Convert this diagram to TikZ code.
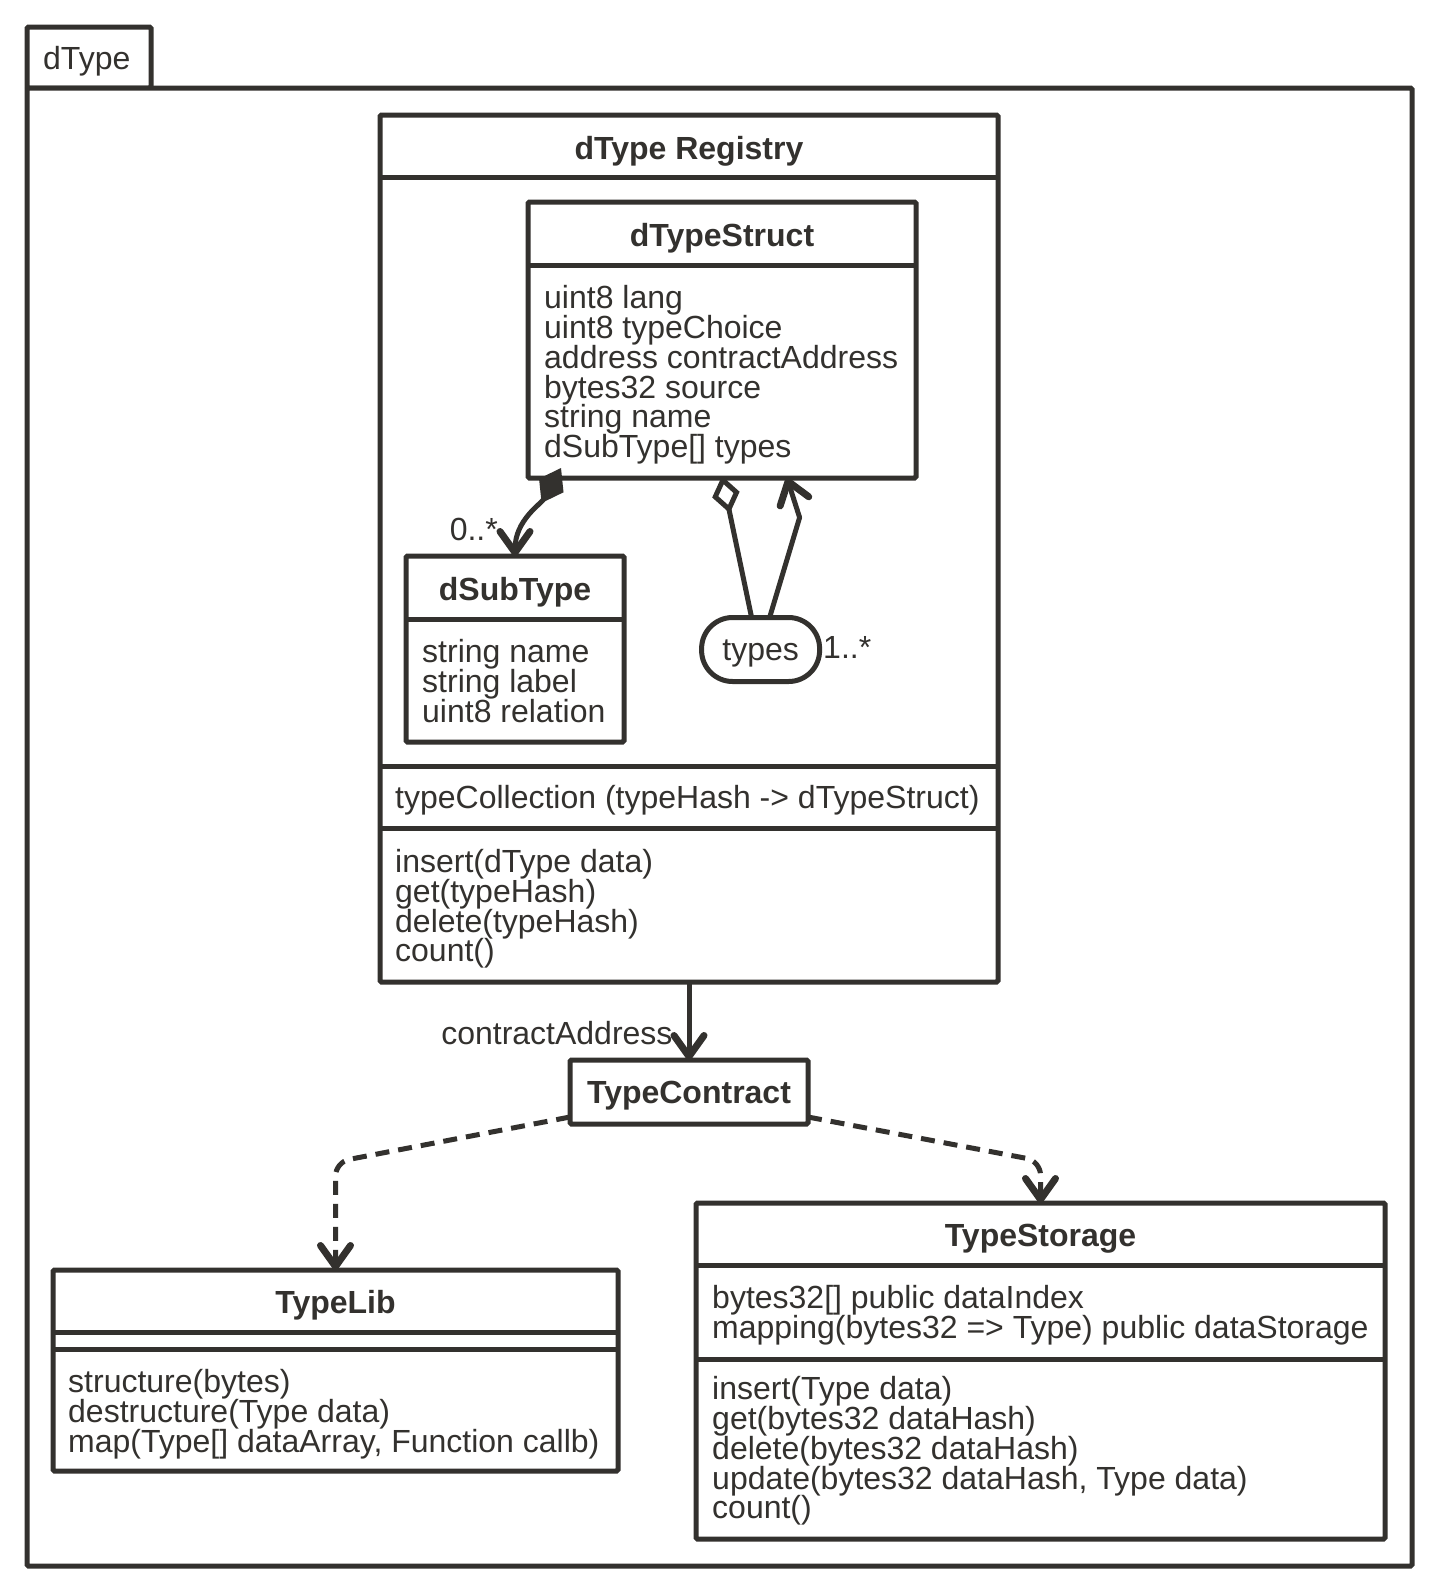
\documentclass[tikz,border=0pt]{standalone}
\usepackage{fontspec}
\setmainfont{Liberation Sans}
\usetikzlibrary{arrows.meta,positioning}
\definecolor{umlink}{RGB}{51,49,46}
\tikzset{
  umltip/.tip={Straight Barb[round,length=21pt,width=30pt,line width=7pt]},
  box/.style={draw=umlink, line width=5pt, rounded corners=1.5pt, fill=white, anchor=north west, inner sep=0pt, outer sep=0pt},
  ttl/.style={font=\fontsize{32}{30}\selectfont\bfseries, text=umlink, inner sep=0pt},
  txt/.style={font={\fontsize{32}{29.8}\selectfont\lineskiplimit=-10pt}, text=umlink, align=left, anchor=west, inner sep=0pt},
  sep/.style={umlink, line width=5pt},
  assoc/.style={umlink, line width=5pt, line join=round, -umltip},
  dep/.style={assoc, dash pattern=on 14pt off 9pt, rounded corners=14pt},
  compo/.style={assoc, {Diamond[length=40pt,width=28pt]}-umltip},
  aggr/.style={umlink, line width=5pt, {Diamond[open,length=38pt,width=28pt,line width=5pt]}-},
}

\begin{document}
\begin{tikzpicture}[x=1pt, y=-1pt]
  \useasboundingbox (0,0) rectangle (1436,1590);
  % package frame
  \node[box, minimum width=124pt, minimum height=61pt] (pkgtab) at (27,27) {};
  \node[box, minimum width=1385pt, minimum height=1478pt] (pkg) at (27,88) {};
  \node[txt] (pkgname) at (43,61) {dType};

  % registry and its inner classes
  \node[box, minimum width=618pt, minimum height=867pt] (reg) at (380,115) {};
  \draw[sep] (380,177.5) -- (998,177.5);
  \draw[sep] (380,766) -- (998,766);
  \draw[sep] (380,828.5) -- (998,828.5);
  \node[ttl] (regname) at (689,151) {dType Registry};
  \node[txt] (regattr) at (395,800) {typeCollection (typeHash -> dTypeStruct)};
  \node[txt] (regops) at (395,909) {insert(dType data)\\get(typeHash)\\delete(typeHash)\\count()};

  \node[box, minimum width=388pt, minimum height=276pt] (struct) at (528,202) {};
  \draw[sep] (528,265) -- (916,265);
  \node[ttl] (structname) at (722,238) {dTypeStruct};
  \node[txt] (structattr) at (544,375) {uint8 lang\\uint8 typeChoice\\address contractAddress\\bytes32 source\\string name\\dSubType[] types};

  \node[box, minimum width=218pt, minimum height=186pt] (sub) at (406,556) {};
  \draw[sep] (406,619) -- (624,619);
  \node[ttl] (subname) at (515,592) {dSubType};
  \node[txt] (subattr) at (422,681) {string name\\string label\\uint8 relation};

  \node[box, anchor=center, rounded corners=31pt, minimum width=118pt, minimum height=64pt] (types) at (760.6,649.5) {};
  \node[txt, anchor=center] (typesname) at (760.6,653) {types};
  \node[txt] (typesmult) at (823,647) {1..*};
  \node[txt, anchor=east] (submult) at (498,529) {0..*};

  \draw[compo] ([xshift=33pt, yshift=10pt]struct.south west) .. controls +(-20,36) and +(0,-36) .. (sub.north);
  \draw[aggr] ([yshift=2pt]struct.south) -- ([xshift=-9pt]types.north);
  \draw[assoc] ([xshift=9pt]types.north) -- ++(30,-100) -- ([xshift=65pt]struct.south);

  % contract side
  \node[box, minimum width=238pt, minimum height=64pt] (contract) at (570,1060) {};
  \node[ttl] (contractname) at (689,1096) {TypeContract};
  \draw[assoc] (reg.south) -- (contract.north) node[txt, pos=0.66, anchor=east, left=14pt] {contractAddress};

  \node[box, minimum width=565pt, minimum height=201pt] (lib) at (53,1270) {};
  \draw[sep] (53,1332.5) -- (618,1332.5);
  \draw[sep] (53,1349) -- (618,1349);
  \node[ttl] (libname) at (335.5,1305) {TypeLib};
  \node[txt] (libops) at (68,1414) {structure(bytes)\\destructure(Type data)\\map(Type[] dataArray, Function callb)};

  \node[box, minimum width=689pt, minimum height=336pt] (store) at (696,1203) {};
  \draw[sep] (696,1265.5) -- (1385,1265.5);
  \draw[sep] (696,1359) -- (1385,1359);
  \node[ttl] (storename) at (1040.5,1239) {TypeStorage};
  \node[txt] (storeattr) at (712,1315) {bytes32[] public dataIndex\\mapping(bytes32 => Type) public dataStorage};
  \node[txt] (storeops) at (712,1451) {insert(Type data)\\get(bytes32 dataHash)\\delete(bytes32 dataHash)\\update(bytes32 dataHash, Type data)\\count()};

  \coordinate (lbend) at (0,1162);
  \coordinate (rbend) at (0,1161);
  \draw[dep] ([yshift=7pt]contract.south west) -- (lib.north |- lbend) -- (lib.north);
  \draw[dep] ([yshift=7pt]contract.south east) -- (store.north |- rbend) -- (store.north);
\end{tikzpicture}
\end{document}
